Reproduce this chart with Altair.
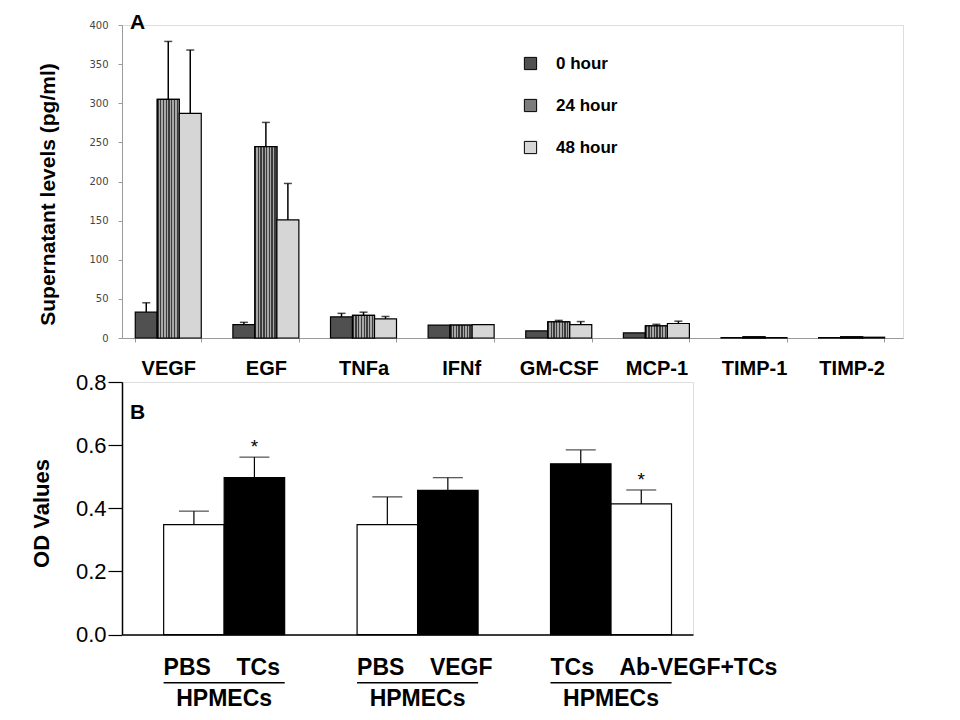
import altair as alt
import pandas as pd

# ---------------- Panel A data ----------------
cytokines = ["VEGF", "EGF", "TNFa", "IFNf", "GM-CSF", "MCP-1", "TIMP-1", "TIMP-2"]
series = ["0 hour", "24 hour", "48 hour"]
mean_0h = [33, 17, 27, 16.5, 9, 6.5, 0.5, 0.5]
sd_0h = [12, 3, 4.5, 0, 0, 0, 0, 0]
mean_24h = [305, 244.5, 29, 16.5, 20.5, 15.5, 1.5, 1.5]
sd_24h = [74, 31, 4, 0, 2, 2, 0, 0]
mean_48h = [287, 151, 24.5, 17, 17, 18.5, 0.5, 1]
sd_48h = [81, 46.5, 3, 0, 4, 3, 0, 0]

# ---------------- Panel B data ----------------
b_group = [1, 1, 2, 2, 3, 3]
b_slot = [0, 1, 0, 1, 0, 1]
b_treat = ["PBS", "TCs", "PBS", "VEGF", "TCs", "Ab-VEGF+TCs"]
b_kind = ["control", "stimulus", "control", "stimulus", "stimulus", "blocked"]
b_mean = [0.348, 0.497, 0.348, 0.457, 0.541, 0.414]
b_sd = [0.043, 0.065, 0.088, 0.040, 0.044, 0.044]
b_sig = [False, True, False, False, False, True]
b_cells = ["HPMECs", "HPMECs", "HPMECs"]

FONT = "Liberation Sans, Arial, Helvetica, sans-serif"
WA, HA = 781, 313
WB, HB = 571, 252.6
BAR_A = 22      # pixel width of one bar in panel A
BAR_B = 60.5    # pixel width of one bar in panel B

rows = []
for s, m, e in zip(series, [mean_0h, mean_24h, mean_48h], [sd_0h, sd_24h, sd_48h]):
    for c, mv, ev in zip(cytokines, m, e):
        rows.append({"cytokine": c, "series": s, "value": mv, "sd": ev, "upper": mv + ev})
dfa = pd.DataFrame(rows)

xA = alt.X("cytokine:N", sort=cytokines,
           scale=alt.Scale(domain=cytokines, paddingInner=0.327, paddingOuter=0.1635, align=0.42),
           axis=alt.Axis(title=None, labelAngle=0, labelFont=FONT, labelFontWeight="bold",
                         labelFontSize=20, labelColor="black", labelPadding=16,
                         tickBand="extent", tickSize=4, tickColor="#9a9a9a",
                         domainColor="#9a9a9a", domainWidth=1))
yscA = alt.Scale(domain=[0, 400], nice=False)
axA = alt.Axis(values=list(range(0, 401, 50)), grid=False, title="Supernatant levels (pg/ml)",
               titleFont=FONT, titleFontSize=21, titleFontWeight="bold", titleColor="black",
               titleX=-64, titleY=169, labelOverlap=False,
               labelFont="DejaVu Sans, Verdana", labelFontSize=10, labelColor="#444",
               labelPadding=10, tickSize=4, tickColor="#9a9a9a", domainColor="#9a9a9a")
colorA = alt.Color("series:N", scale=alt.Scale(domain=series, range=["#505050", "#7c7c7c", "#d6d6d6"]),
                   legend=alt.Legend(title=None, orient="none", legendX=400, legendY=30, padding=0,
                                     symbolType="square", symbolSize=150, symbolStrokeColor="black",
                                     symbolStrokeWidth=1, labelFont=FONT, labelFontSize=17,
                                     labelFontWeight="bold", labelColor="black", labelOffset=17,
                                     rowPadding=24, symbolOpacity=1))

stops = []
n_str = 8
for i in range(n_str):
    a = i / n_str
    b = (i + 0.5) / n_str
    c = (i + 1) / n_str
    stops += [{"offset": a, "color": "#3c3c3c"}, {"offset": b, "color": "#3c3c3c"},
              {"offset": b, "color": "#a8a8a8"}, {"offset": c, "color": "#a8a8a8"}]
stripe = {"gradient": "linear", "x1": 0, "x2": 1, "y1": 0, "y2": 0, "stops": stops}

layers_a = []
err_layers_a = []
for i, s in enumerate(series):
    off = (i - 1) * BAR_A
    base = alt.Chart(dfa).transform_filter(alt.datum.series == s)
    layers_a.append(base.mark_bar(stroke="black", strokeWidth=1.2, width=BAR_A, xOffset=off).encode(
        x=xA, y=alt.Y("value:Q", scale=yscA, axis=axA), color=colorA))
    if s == "24 hour":
        layers_a.append(base.mark_bar(fill=stripe, stroke="black", strokeWidth=1.2, width=BAR_A,
                                      xOffset=off).encode(x=xA, y=alt.Y("value:Q", scale=yscA, axis=axA)))
    eb = base.transform_filter(alt.datum.sd > 0)
    err_layers_a.append(eb.mark_rule(color="black", strokeWidth=1.5, xOffset=off).encode(
        x=xA, y=alt.Y("value:Q", scale=yscA, axis=axA), y2="upper:Q"))
    err_layers_a.append(eb.mark_tick(color="black", thickness=1.5, size=8, orient="horizontal",
                                     xOffset=off).encode(
        x=xA, y=alt.Y("upper:Q", scale=yscA, axis=axA)))

letter_a = alt.Chart(pd.DataFrame({"t": ["A"]})).mark_text(
    font=FONT, fontSize=21, fontWeight="bold", align="left", baseline="alphabetic", color="black").encode(
    text="t:N", x=alt.value(8), y=alt.value(4))

panel_a = alt.layer(*layers_a, *err_layers_a, letter_a).properties(width=WA, height=HA)

# ---------------- Panel B ----------------
dfb = pd.DataFrame({"group": b_group, "slot": b_slot, "treat": b_treat, "kind": b_kind,
                    "mean": b_mean, "sd": b_sd, "sig": b_sig})
dfb["upper"] = dfb["mean"] + dfb["sd"]

glab = []
for g, cell in zip([1, 2, 3], b_cells):
    names = [t for gg, t in zip(b_group, b_treat) if gg == g]
    glab.append({"group": g, "label": "\u00a0\u00a0\u00a0\u00a0".join(names), "cell": cell})
dfg = pd.DataFrame(glab)

xB = alt.X("group:O", scale=alt.Scale(domain=[1, 2, 3], paddingInner=0.374, paddingOuter=0.163, align=0.66),
           axis=alt.Axis(title=None, labels=False, ticks=False, domainColor="black", domainWidth=1.5))
yscB = alt.Scale(domain=[0, 0.8], nice=False)
axB = alt.Axis(values=[0, 0.2, 0.4, 0.6, 0.8], format=".1f", grid=False, title="OD Values",
               titleFont=FONT, titleFontSize=22, titleFontWeight="bold", titleColor="black",
               titleX=-69, titleY=131, labelOverlap=False,
               labelFont=FONT, labelFontSize=22, labelColor="black", labelPadding=2,
               tickSize=14, tickColor="black", tickWidth=1.2, domainColor="black", domainWidth=1.5)
fillB = alt.Fill("kind:N", scale=alt.Scale(domain=["control", "stimulus", "blocked"],
                                          range=["white", "black", "white"]), legend=None)

layers_b = []
for k in [0, 1]:
    off = (k - 0.5) * BAR_B
    base = alt.Chart(dfb).transform_filter(alt.datum.slot == k)
    layers_b.append(base.mark_bar(stroke="black", strokeWidth=1.2, width=BAR_B, xOffset=off).encode(
        x=xB, y=alt.Y("mean:Q", scale=yscB, axis=axB), fill=fillB))
    layers_b.append(base.mark_rule(color="black", strokeWidth=1.2, xOffset=off).encode(
        x=xB, y=alt.Y("mean:Q", scale=yscB, axis=axB), y2="upper:Q"))
    layers_b.append(base.mark_tick(color="black", thickness=1.2, size=30, orient="horizontal",
                                   xOffset=off).encode(
        x=xB, y=alt.Y("upper:Q", scale=yscB, axis=axB)))
    layers_b.append(base.transform_filter(alt.datum.sig).mark_text(
        text="*", font=FONT, fontSize=19, color="black", baseline="alphabetic", dy=-4, xOffset=off).encode(
        x=xB, y=alt.Y("upper:Q", scale=yscB, axis=axB)))

lab_b = alt.Chart(dfg).mark_text(font=FONT, fontSize=23, fontWeight="bold", align="left",
                                 baseline="alphabetic", color="black").encode(
    x=alt.X("group:O", bandPosition=0), y=alt.value(293), text="label:N")
line_b = alt.Chart(dfg).mark_bar(color="black").encode(
    x=alt.X("group:O"), y=alt.value(300), y2=alt.value(301.5))
cell_b = alt.Chart(dfg).mark_text(font=FONT, fontSize=23, fontWeight="bold", align="center",
                                  baseline="alphabetic", color="black").encode(
    x=alt.X("group:O"), y=alt.value(323.5), text="cell:N")

letter_b = alt.Chart(pd.DataFrame({"t": ["B"]})).mark_text(
    font=FONT, fontSize=21, fontWeight="bold", align="left", baseline="alphabetic", color="black").encode(
    text="t:N", x=alt.value(8), y=alt.value(37))

panel_b = alt.layer(*layers_b, lab_b, line_b, cell_b, letter_b).properties(width=WB, height=HB)

chart = alt.vconcat(panel_a, panel_b, spacing=44, bounds="flush").properties(
    padding={"left": 21, "top": 3, "right": 5, "bottom": 5}
).configure_view(stroke=None).configure(background="white")

chart.save("out.html", embed_options={"renderer": "svg", "actions": False})
